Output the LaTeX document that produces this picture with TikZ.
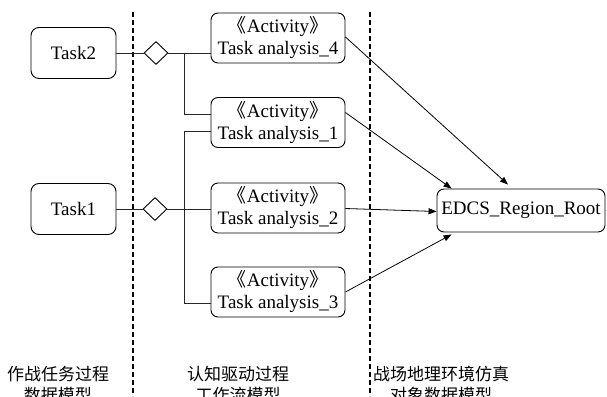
\documentclass[tikz,border=0pt]{standalone}
\usepackage{fontspec}
\setmainfont{Liberation Serif}
\newfontfamily\cjk{Noto Sans CJK SC}
\usetikzlibrary{arrows.meta,shapes.geometric}

\newcommand{\lguil}{\makebox[10pt][r]{\cjk 《}}
\newcommand{\rguil}{\makebox[10pt][l]{\cjk 》}}

\tikzset{
  taskbox/.style={draw, line width=0.9pt, rounded corners=8pt, minimum width=85pt, minimum height=51pt, inner sep=0pt},
  actbox/.style={draw, line width=0.9pt, rounded corners=7pt, minimum width=134pt, minimum height=50pt, inner sep=0pt, align=center, font=\fontsize{19}{22}\selectfont},
  rootbox/.style={draw, line width=0.9pt, rounded corners=7pt, minimum width=168pt, minimum height=43pt, inner sep=0pt},
  gate/.style={draw, line width=0.9pt, diamond, minimum width=24pt, minimum height=23pt, inner sep=0pt, aspect=1},
  link/.style={line width=0.9pt, draw=black!85},
  flow/.style={line width=0.8pt, -{Triangle[length=8pt,width=6pt]}},
  lane/.style={line width=1.1pt, dash pattern=on 5pt off 3pt},
  lanelabel/.style={align=center, font=\cjk\fontsize{17}{21}\selectfont, inner sep=0pt}
}

\begin{document}
\begin{tikzpicture}[x=1pt, y=-1pt, font=\fontsize{19}{22}\selectfont]
\useasboundingbox (0,0) rectangle (607,396);

% lane separators
\draw[lane] (133,12) -- (133,396);
\draw[lane] (370,12) -- (370,396);

% operational tasks
\node[taskbox] (T2) at (73.5,53) {Task2};
\node[taskbox] (T1) at (73.5,209) {Task1};

% decision gates
\node[gate] (G2) at (156,53) {};
\node[gate] (G1) at (155,209) {};

% activities
\node[actbox] (A4) at (278,38)    {\lguil Activity\rguil\\Task analysis\_4};
\node[actbox] (A1) at (278,122.5) {\lguil Activity\rguil\\Task analysis\_1};
\node[actbox] (A2) at (278,208)   {\lguil Activity\rguil\\Task analysis\_2};
\node[actbox] (A3) at (278,292)   {\lguil Activity\rguil\\Task analysis\_3};

% simulation object
\node[rootbox] (R) at (521,210.5) {EDCS\_Region\_Root};

% junction points
\coordinate (J2) at (184,53);
\coordinate (J1) at (184,303);

% task to gate to activity links
\draw[link] (T2) -- (G2);
\draw[link] (G2.east) -- (G2.east -| A4.west);
\draw[link] (J2) |- ([yshift=8.5pt]A1.west);

\draw[link] (T1) -- (G1);
\draw[link] (G1.east) -- (G1.east -| A2.west);
\draw[link] ([yshift=-8.5pt]A1.west) -| (J1) -- (J1 -| A3.west);

% activities to simulation object
\draw[flow] ([yshift=1pt]A4.east) -- ([xshift=-13pt,yshift=4pt]R.north);
\draw[flow] ([yshift=10pt]A1.east) -- ([xshift=15pt]R.north west);
\draw[flow] ([yshift=-0.5pt]A2.east) -- ([yshift=-1pt]R.west);
\draw[flow] (A3.east) -- ([xshift=15pt,yshift=-2pt]R.south west);

% lane titles
\node[lanelabel] (L1) at (58,385)  {作战任务过程\\数据模型};
\node[lanelabel] (L2) at (238,385) {认知驱动过程\\工作流模型};
\node[lanelabel] (L3) at (441,385) {战场地理环境仿真\\对象数据模型};
\end{tikzpicture}
\end{document}
